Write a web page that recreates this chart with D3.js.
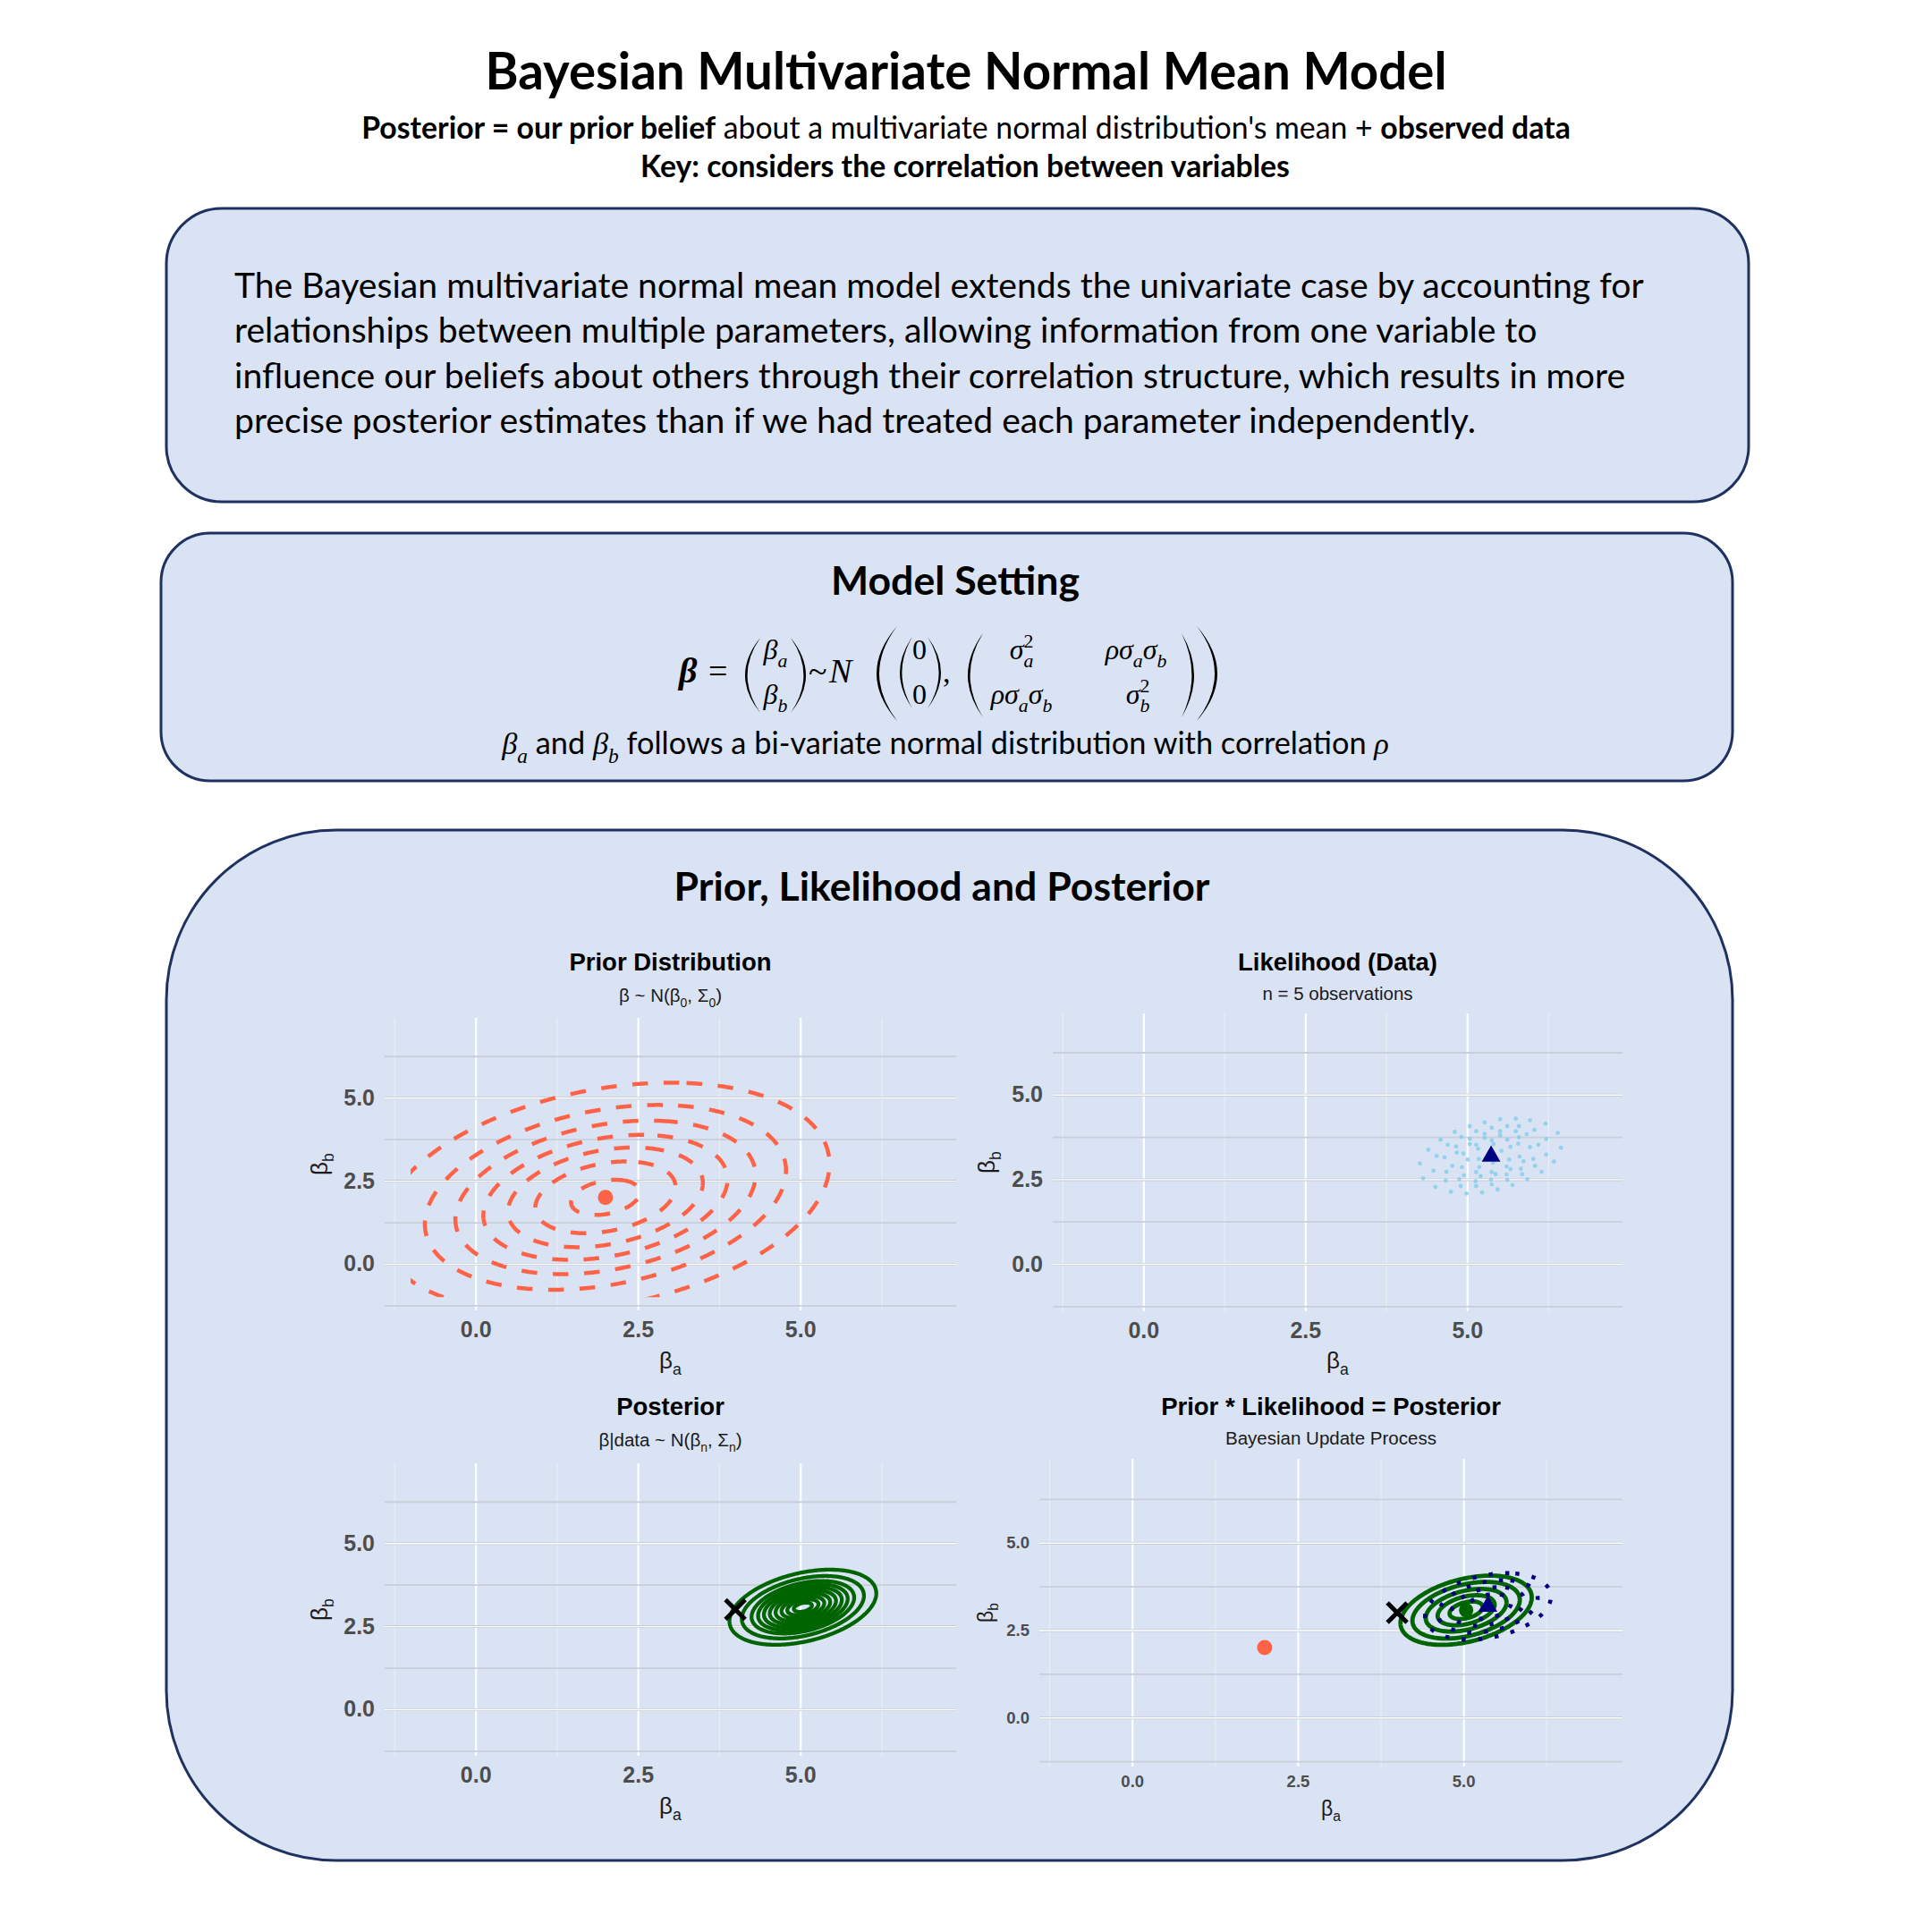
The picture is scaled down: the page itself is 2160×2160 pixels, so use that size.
<!DOCTYPE html>
<html lang="en">
<head>
<meta charset="utf-8">
<title>Bayesian Multivariate Normal Mean Model</title>
<script src="https://d3js.org/d3.v7.min.js"></script>
<style>
  body { margin: 0; background: #ffffff; }
</style>
</head>
<body>
<script>
const W = 2160, H = 2160;
const textFont = "Lato, 'Open Sans', sans-serif";
const mathFont = "'Liberation Serif', 'DejaVu Serif', serif";
const plotFont = "'Liberation Sans', Arial, sans-serif";
const boxFill = "#dae3f3", boxStroke = "#1f3160";

// ---- text ----
const titleText = "Bayesian Multivariate Normal Mean Model";
const bodyLines = [
  "The Bayesian multivariate normal mean model extends the univariate case by accounting for",
  "relationships between multiple parameters, allowing information from one variable to",
  "influence our beliefs about others through their correlation structure, which results in more",
  "precise posterior estimates than if we had treated each parameter independently."
];

// ---- axes (same for all four panels) ----
const majorTicks = [0, 2.5, 5];
const minorTicks = [-1.25, 1.25, 3.75, 6.25];
const axisDomain = [-1.4, 7.4];
const gridDomain = [-1, 7];   // contour grid range, clips the outer prior ring

// ---- distributions ----
// rings = half-width of each contour along beta_a
const priorMean = [2, 2], priorSd = [1.7, 1.7], priorRho = 0.29;
const priorRings = [0.53, 1.08, 1.50, 1.88, 2.31, 2.78, 3.45];

const postMean = [5.04, 3.07], postSd = [0.53, 0.53], postRho = 0.37;
const postRings = [0.14, 0.24, 0.33, 0.42, 0.51, 0.60, 0.69, 0.79, 0.94, 1.13];
const postRingsUpdate = [0.25, 0.43, 0.61, 0.81, 0.99];

const likMean = [5.37, 3.18], likSd = [0.47, 0.47], likRho = 0.3;
const likRings = [0.35, 0.55, 0.75, 0.95];

const trueBeta = [4, 3];

// simulated draws shown in the likelihood panel
const obsA = [5.27,5.51,5.75,5.97,6.21,6.40,5.62,5.80,5.04,5.14,5.38,5.51,4.81,4.91,5.27,5.27,5.51,5.75,5.80,5.92,
  6.04,4.59,5.04,5.04,5.38,5.62,5.67,5.79,5.97,6.10,6.22,6.45,4.40,4.70,4.83,5.14,5.17,5.41,5.53,4.53,
  4.65,4.84,4.94,5.81,5.87,6.02,6.22,6.34,4.27,4.77,4.92,5.01,5.18,5.65,5.61,5.40,5.67,5.83,6.05,6.15,
  4.48,4.68,4.95,5.14,5.19,5.38,5.44,5.61,5.85,4.32,4.67,4.88,5.13,5.21,5.37,5.62,5.93,4.51,4.90,5.14,
  5.38,5.70,4.75,4.99,5.23,5.47];
const obsB = [4.18,4.27,4.29,4.24,4.14,3.87,4.07,4.07,4.07,3.92,4.02,3.92,3.90,3.75,3.84,3.72,3.80,3.92,3.74,3.83,
  3.96,3.67,3.69,3.54,3.65,3.67,3.46,3.55,3.45,3.52,3.69,3.43,3.37,3.52,3.47,3.52,3.40,3.54,3.34,3.19,
  3.15,3.29,3.26,3.17,3.03,3.10,3.23,3.02,2.97,2.90,2.86,3.08,3.10,3.08,2.88,2.99,2.80,2.81,2.90,2.72,
  2.75,2.72,2.62,2.71,2.86,2.71,2.65,2.64,2.65,2.53,2.46,2.50,2.44,2.59,2.49,2.48,2.50,2.27,2.30,2.30,
  2.35,2.33,2.13,2.08,2.11,2.20];

const svg = d3.select("body").append("svg")
  .attr("width", W).attr("height", H);
svg.append("rect").attr("width", W).attr("height", H).attr("fill", "#ffffff");
const defs = svg.append("defs");

// text with bold / math / sub / sup runs
function rich(parent, x, y, fs, anchor, parts, font) {
  const t = parent.append("text").attr("x", x).attr("y", y)
    .attr("font-size", fs).attr("text-anchor", anchor)
    .attr("font-family", font).attr("fill", "#000");
  let shift = 0;
  parts.forEach(p => {
    const target = p.sub ? 0.28 * fs : p.sup ? -0.42 * fs : 0;
    const sp = t.append("tspan").attr("dy", target - shift).text(p.t);
    shift = target;
    if (p.sub || p.sup) sp.attr("font-size", fs * 0.68);
    if (p.dx) sp.attr("dx", p.dx * fs);
    if (p.b) sp.attr("font-weight", "bold");
    if (p.m) sp.attr("font-family", mathFont).attr("font-style", "italic");
  });
  return t;
}
function fitRich(parent, x, y, fs, anchor, parts, font, width) {
  const t = rich(parent, x, y, fs, anchor, parts, font);
  const w = t.node().getComputedTextLength();
  t.remove();
  return rich(parent, x, y, fs * width / w, anchor, parts, font);
}

// ---- header ----
fitRich(svg, 1080, 100, 56, "middle", [{t: titleText, b: 1}], textFont, 1075);
fitRich(svg, 1080, 155, 30, "middle", [
  {t: "Posterior = our prior belief", b: 1},
  {t: " about a multivariate normal distribution's mean + "},
  {t: "observed data", b: 1}], textFont, 1352);
fitRich(svg, 1079, 198, 30, "middle",
  [{t: "Key: considers the correlation between variables", b: 1}], textFont, 726);

// ---- boxes ----
svg.append("rect").attr("x", 186).attr("y", 233).attr("width", 1769).attr("height", 328)
  .attr("rx", 62).attr("fill", boxFill).attr("stroke", boxStroke).attr("stroke-width", 3);
svg.append("rect").attr("x", 180).attr("y", 596).attr("width", 1757).attr("height", 277)
  .attr("rx", 55).attr("fill", boxFill).attr("stroke", boxStroke).attr("stroke-width", 3);
svg.append("rect").attr("x", 186).attr("y", 928).attr("width", 1751).attr("height", 1152)
  .attr("rx", 190).attr("fill", boxFill).attr("stroke", boxStroke).attr("stroke-width", 3);

// body text, sized so the first line fills its width
const probe = rich(svg, 262, 333, 36, "start", [{t: bodyLines[0]}], textFont);
const bodySize = 36 * 1576 / probe.node().getComputedTextLength();
probe.remove();
bodyLines.forEach((l, i) => rich(svg, 262, 333 + i * 50.3, bodySize, "start", [{t: l}], textFont));

// ---- model setting ----
fitRich(svg, 1068, 665, 40, "middle", [{t: "Model Setting", b: 1}], textFont, 278);

const fg = svg.append("g");
function paren(xl, xr, y0, y1, th, left) {
  const ym = (y0 + y1) / 2;
  const tip = left ? xr : xl, far = left ? xl : xr, s = left ? 1 : -1;
  const c1 = 2 * far - tip, c2 = 2 * (far + s * th) - tip;
  fg.append("path")
    .attr("d", `M${tip},${y0}Q${c1},${ym} ${tip},${y1}Q${c2},${ym} ${tip},${y0}Z`)
    .attr("fill", "#000");
}
paren(833, 850, 713, 797, 2.6, true);  paren(884, 901, 713, 797, 2.6, false);
paren(980, 1003, 700, 806, 3.0, true); paren(1338, 1361, 700, 806, 3.0, false);
paren(1006, 1020, 712, 792, 2.4, true); paren(1037, 1052, 712, 792, 2.4, false);
paren(1082, 1099, 708, 802, 2.6, true); paren(1321, 1335, 708, 802, 2.6, false);

const m = (x, y, fs, anchor, parts) => rich(fg, x, y, fs, anchor, parts, mathFont);
m(759, 763, 40, "start", [{t: "β", b: 1, m: 1}]);
m(792, 763, 38, "start", [{t: "="}]);
m(904, 763, 38, "start", [{t: "~"}]);
m(927, 763, 38, "start", [{t: "N", m: 1}]);
m(1054, 763, 34, "start", [{t: ","}]);
m(867, 737, 32, "middle", [{t: "β", m: 1}, {t: "a", m: 1, sub: 1}]);
m(867, 787, 32, "middle", [{t: "β", m: 1}, {t: "b", m: 1, sub: 1}]);
m(1028, 737, 32, "middle", [{t: "0"}]);
m(1028, 787, 32, "middle", [{t: "0"}]);
m(1142, 737, 32, "middle", [{t: "σ", m: 1}, {t: "a", m: 1, sub: 1}, {t: "2", sup: 1, dx: -0.34}]);
m(1270, 737, 32, "middle", [{t: "ρσ", m: 1}, {t: "a", m: 1, sub: 1}, {t: "σ", m: 1}, {t: "b", m: 1, sub: 1}]);
m(1142, 787, 32, "middle", [{t: "ρσ", m: 1}, {t: "a", m: 1, sub: 1}, {t: "σ", m: 1}, {t: "b", m: 1, sub: 1}]);
m(1272, 787, 32, "middle", [{t: "σ", m: 1}, {t: "b", m: 1, sub: 1}, {t: "2", sup: 1, dx: -0.34}]);

fitRich(svg, 1057, 843, 32, "middle", [
  {t: "β", m: 1}, {t: "a", m: 1, sub: 1}, {t: " and "},
  {t: "β", m: 1}, {t: "b", m: 1, sub: 1},
  {t: " follows a bi-variate normal distribution with correlation "},
  {t: "ρ", m: 1}], textFont, 992);

// ---- prior / likelihood / posterior ----
fitRich(svg, 1053, 1007, 42, "middle", [{t: "Prior, Likelihood and Posterior", b: 1}], textFont, 599);

// density grid for the contours
const g0 = -3, g1 = 9, step = 0.02, gn = Math.round((g1 - g0) / step) + 1;
function density(mean, sd, rho) {
  const v = new Float64Array(gn * gn);
  for (let j = 0; j < gn; j++) {
    const b = (g0 + j * step - mean[1]) / sd[1];
    for (let i = 0; i < gn; i++) {
      const a = (g0 + i * step - mean[0]) / sd[0];
      v[j * gn + i] = Math.exp(-0.5 * (a * a - 2 * rho * a * b + b * b) / (1 - rho * rho));
    }
  }
  return v;
}
const priorDens = density(priorMean, priorSd, priorRho);
const postDens = density(postMean, postSd, postRho);
const likDens = density(likMean, likSd, likRho);

function contourLines(g, x, y, vals, sd, rings) {
  const th = rings.map(e => Math.exp(-0.5 * (e / sd[0]) ** 2));
  const cs = d3.contours().size([gn, gn]).thresholds(th)(vals);
  const proj = d3.geoTransform({
    point(px, py) { this.stream.point(x(g0 + (px - 0.5) * step), y(g0 + (py - 0.5) * step)); }
  });
  return g.append("g").selectAll("path").data(cs).join("path")
    .attr("d", d3.geoPath(proj)).attr("fill", "none")
    .attr("stroke-linejoin", "round");
}

function drawX(g, x, y, p) {
  g.append("path").attr("d", d3.symbol(d3.symbolX, 318)())
    .attr("transform", `translate(${x(p[0])},${y(p[1])})`)
    .attr("stroke", "#000").attr("stroke-width", 5).attr("fill", "none");
}
function drawTri(g, x, y, p) {
  g.append("path").attr("d", d3.symbol(d3.symbolTriangle, 190)())
    .attr("transform", `translate(${x(p[0])},${y(p[1])})`)
    .attr("fill", "#000080");
}
function drawDot(g, x, y, p, col, r) {
  g.append("circle").attr("cx", x(p[0])).attr("cy", y(p[1])).attr("r", r).attr("fill", col);
}

const panels = [
  {x0: 430, x1: 1069, y0: 1138, y1: 1465, tick: 25, pad: 12, lab: 26, xlabY: 1530, ylabX: 366,
   title: "Prior Distribution", titleY: 1085, subY: 1120,
   sub: [{t: "β ~ N(β"}, {t: "0", sub: 1}, {t: ", Σ"}, {t: "0", sub: 1}, {t: ")"}],
   draw(g, x, y) {
     contourLines(g, x, y, priorDens, priorSd, priorRings)
       .attr("stroke", "#ff6347").attr("stroke-width", 4.5).attr("stroke-dasharray", "17.5,17.5");
     drawDot(g, x, y, priorMean, "#ff6347", 8.5);
   }},
  {x0: 1177, x1: 1814, y0: 1133, y1: 1466, tick: 25, pad: 12, lab: 26, xlabY: 1530, ylabX: 1112,
   title: "Likelihood (Data)", titleY: 1085, subY: 1118,
   sub: [{t: "n = 5 observations"}],
   draw(g, x, y) {
     g.append("g").selectAll("circle").data(d3.zip(obsA, obsB)).join("circle")
       .attr("cx", d => x(d[0])).attr("cy", d => y(d[1])).attr("r", 2.4)
       .attr("fill", "#87ceeb").attr("opacity", 0.85);
     drawTri(g, x, y, likMean);
   }},
  {x0: 430, x1: 1069, y0: 1636, y1: 1963, tick: 25, pad: 12, lab: 26, xlabY: 2028, ylabX: 366,
   title: "Posterior", titleY: 1582, subY: 1617,
   sub: [{t: "β|data ~ N(β"}, {t: "n", sub: 1}, {t: ", Σ"}, {t: "n", sub: 1}, {t: ")"}],
   draw(g, x, y) {
     contourLines(g, x, y, postDens, postSd, postRings)
       .attr("stroke", "#006400").attr("stroke-width", 4.3);
     drawX(g, x, y, trueBeta);
   }},
  {x0: 1162, x1: 1814, y0: 1631, y1: 1975, tick: 18.5, pad: 10, lab: 23, xlabY: 2030, ylabX: 1110,
   title: "Prior * Likelihood = Posterior", titleY: 1582, subY: 1615,
   sub: [{t: "Bayesian Update Process"}],
   draw(g, x, y) {
     contourLines(g, x, y, postDens, postSd, postRingsUpdate)
       .attr("stroke", "#006400").attr("stroke-width", 4.8);
     contourLines(g, x, y, likDens, likSd, likRings)
       .attr("stroke", "#000080").attr("stroke-width", 4.5).attr("stroke-dasharray", "4.5,14");
     drawDot(g, x, y, postMean, "#006400", 8);
     drawTri(g, x, y, likMean);
     drawX(g, x, y, trueBeta);
     drawDot(g, x, y, priorMean, "#ff6347", 8.5);
   }}
];

panels.forEach((p, i) => {
  const x = d3.scaleLinear().domain(axisDomain).range([p.x0, p.x1]);
  const y = d3.scaleLinear().domain(axisDomain).range([p.y1, p.y0]);
  const w = p.x1 - p.x0, h = p.y1 - p.y0;
  const g = svg.append("g");

  // grid
  const grid = (axis, tr, vals, size, col, sw) => g.append("g").attr("transform", tr)
    .call(axis.tickValues(vals).tickSize(size).tickFormat(""))
    .call(a => a.select(".domain").remove())
    .selectAll("line").attr("stroke", col).attr("stroke-width", sw);
  grid(d3.axisBottom(x), `translate(0,${p.y1})`, minorTicks, -h, "#e9edf4", 1.3);
  grid(d3.axisBottom(x), `translate(0,${p.y1})`, majorTicks, -h, "#ffffff", 2.2);
  grid(d3.axisLeft(y), `translate(${p.x0},0)`, minorTicks, -w, "#c8cfdb", 1.8);
  grid(d3.axisLeft(y), `translate(${p.x0},0)`, majorTicks, -w, "#c3cad6", 3);
  grid(d3.axisLeft(y), `translate(${p.x0},0)`, majorTicks, -w, "#ffffff", 1.4);

  // marks, clipped to the contour grid range
  defs.append("clipPath").attr("id", "clip" + i).append("rect")
    .attr("x", x(gridDomain[0])).attr("y", y(gridDomain[1]))
    .attr("width", x(gridDomain[1]) - x(gridDomain[0]))
    .attr("height", y(gridDomain[0]) - y(gridDomain[1]));
  const marks = g.append("g").attr("clip-path", `url(#clip${i})`);
  const free = g.append("g");
  if (i === 0) p.draw(marks, x, y); else p.draw(free, x, y);

  // tick labels
  const style = a => a.call(s => s.select(".domain").remove())
    .selectAll("text").attr("font-size", p.tick).attr("font-weight", "bold")
    .attr("fill", "#4d4d4d").attr("font-family", plotFont);
  g.append("g").attr("transform", `translate(0,${p.y1})`)
    .call(d3.axisBottom(x).tickValues(majorTicks).tickSize(0).tickPadding(p.pad).tickFormat(d3.format(".1f")))
    .call(style);
  g.append("g").attr("transform", `translate(${p.x0},0)`)
    .call(d3.axisLeft(y).tickValues(majorTicks).tickSize(0).tickPadding(11).tickFormat(d3.format(".1f")))
    .call(style);

  // axis titles
  const cx = (p.x0 + p.x1) / 2;
  rich(g, cx, p.xlabY, p.lab, "middle", [{t: "β"}, {t: "a", sub: 1}], plotFont).attr("fill", "#1a1a1a");
  rich(g, 0, 0, p.lab, "middle", [{t: "β"}, {t: "b", sub: 1}], plotFont)
    .attr("fill", "#1a1a1a")
    .attr("transform", `translate(${p.ylabX},${(p.y0 + p.y1) / 2}) rotate(-90)`);

  // titles
  rich(g, cx, p.titleY, 27.5, "middle", [{t: p.title, b: 1}], plotFont);
  rich(g, cx, p.subY, 20.5, "middle", p.sub, plotFont).attr("fill", "#1a1a1a");
});
</script>
</body>
</html>
